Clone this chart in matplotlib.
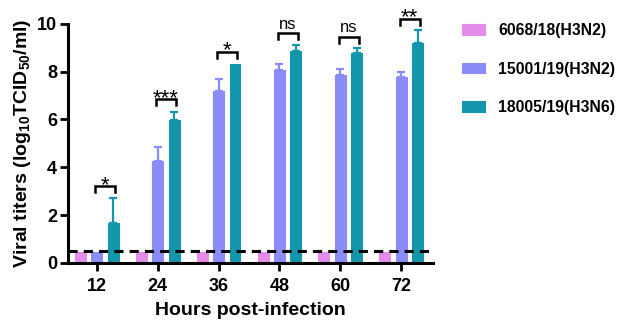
import matplotlib
matplotlib.use("Agg")
import matplotlib.pyplot as plt
import numpy as np

plt.rcParams['font.family'] = ['Liberation Sans', 'DejaVu Sans']
plt.rcParams['font.weight'] = 'bold'
plt.rcParams['mathtext.fontset'] = 'custom'
plt.rcParams['mathtext.rm'] = 'Liberation Sans:bold'
plt.rcParams['mathtext.bf'] = 'Liberation Sans:bold'
plt.rcParams['mathtext.default'] = 'rm'

hours = ['12', '24', '36', '48', '60', '72']
series_names = ['6068/18(H3N2)', '15001/19(H3N2)', '18005/19(H3N6)']
s1 = [0.45, 0.45, 0.45, 0.45, 0.45, 0.45]
s2 = [0.47, 4.27, 7.21, 8.05, 7.87, 7.77]
s2_err = [0.0, 0.56, 0.50, 0.28, 0.23, 0.23]
s3 = [1.65, 5.98, 8.31, 8.88, 8.77, 9.20]
s3_err = [1.05, 0.35, 0.0, 0.23, 0.23, 0.55]
sig_labels = ['*', '***', '*', 'ns', 'ns', '**']
sig_heights = [3.2, 6.85, 8.84, 9.6, 9.47, 10.2]
detection_limit = 0.5

colors = ['#E58CEA', '#8C8CF8', '#1396AC']

fig = plt.figure(figsize=(6.24, 3.27), dpi=100)
ax = fig.add_axes([0.109, 0.196, 0.585, 0.731])

x = np.arange(len(hours))
w = 0.18
off = 0.27
vals = [s1, s2, s3]
errs = [None, s2_err, s3_err]
for i, (v, e, c, n) in enumerate(zip(vals, errs, colors, series_names)):
    pos = x + (i - 1) * off
    ax.bar(pos, v, width=w, color=c, edgecolor=c, linewidth=0.8, label=n, zorder=2)
    if e is not None:
        mask = np.array(e) > 0
        ax.errorbar(pos[mask], np.array(v)[mask],
                    yerr=[np.zeros(mask.sum()), np.array(e)[mask]],
                    fmt='none', ecolor=c, elinewidth=1.6, capsize=3, capthick=1.6, zorder=2)

ax.axhline(detection_limit, color='black', lw=2.2, ls=(0, (3, 2)), zorder=3)

for xi, lab, h in zip(x, sig_labels, sig_heights):
    x0 = xi - 0.03
    x1 = xi + off + 0.03
    leg = 0.25
    ax.plot([x0, x0, x1, x1], [h - leg, h, h, h - leg], color='black', lw=1.8,
            clip_on=False, zorder=4, solid_joinstyle='miter')
    if lab == 'ns':
        ax.text((x0 + x1) / 2, h + 0.05, lab, ha='center', va='bottom',
                fontsize=12, fontweight='normal', clip_on=False)
    else:
        ax.text((x0 + x1) / 2, h - 0.4, lab, ha='center', va='bottom',
                fontsize=16, fontweight='normal', clip_on=False)

ax.set_xlim(-0.47, 5.52)
ax.set_ylim(0, 10)
ax.set_xticks(x)
ax.set_xticklabels(hours)
ax.set_yticks([0, 2, 4, 6, 8, 10])
for s in ['top', 'right']:
    ax.spines[s].set_visible(False)
for s in ['left', 'bottom']:
    ax.spines[s].set_linewidth(2.2)
ax.tick_params(axis='both', width=2, length=6, labelsize=13)
ax.tick_params(axis='x', pad=5)
ax.tick_params(axis='y', pad=2)
for t in ax.get_xticklabels() + ax.get_yticklabels():
    t.set_fontweight('bold')

ax.set_xlabel('Hours post-infection', fontsize=14, fontweight='bold', labelpad=5)
ax.set_ylabel('Viral titers (log$_{10}$TCID$_{50}$/ml)', fontsize=14, fontweight='bold', labelpad=3)

leg = fig.legend(*ax.get_legend_handles_labels(), loc='upper left',
                 bbox_to_anchor=(462 / 624, 1 - 23 / 327), bbox_transform=fig.transFigure,
                 frameon=False, borderpad=0, borderaxespad=0,
                 fontsize=11.3, handlelength=1.45, handleheight=0.65,
                 labelspacing=1.5, handletextpad=0.85)
for t in leg.get_texts():
    t.set_fontweight('bold')

fig.savefig('out.png', dpi=100)
